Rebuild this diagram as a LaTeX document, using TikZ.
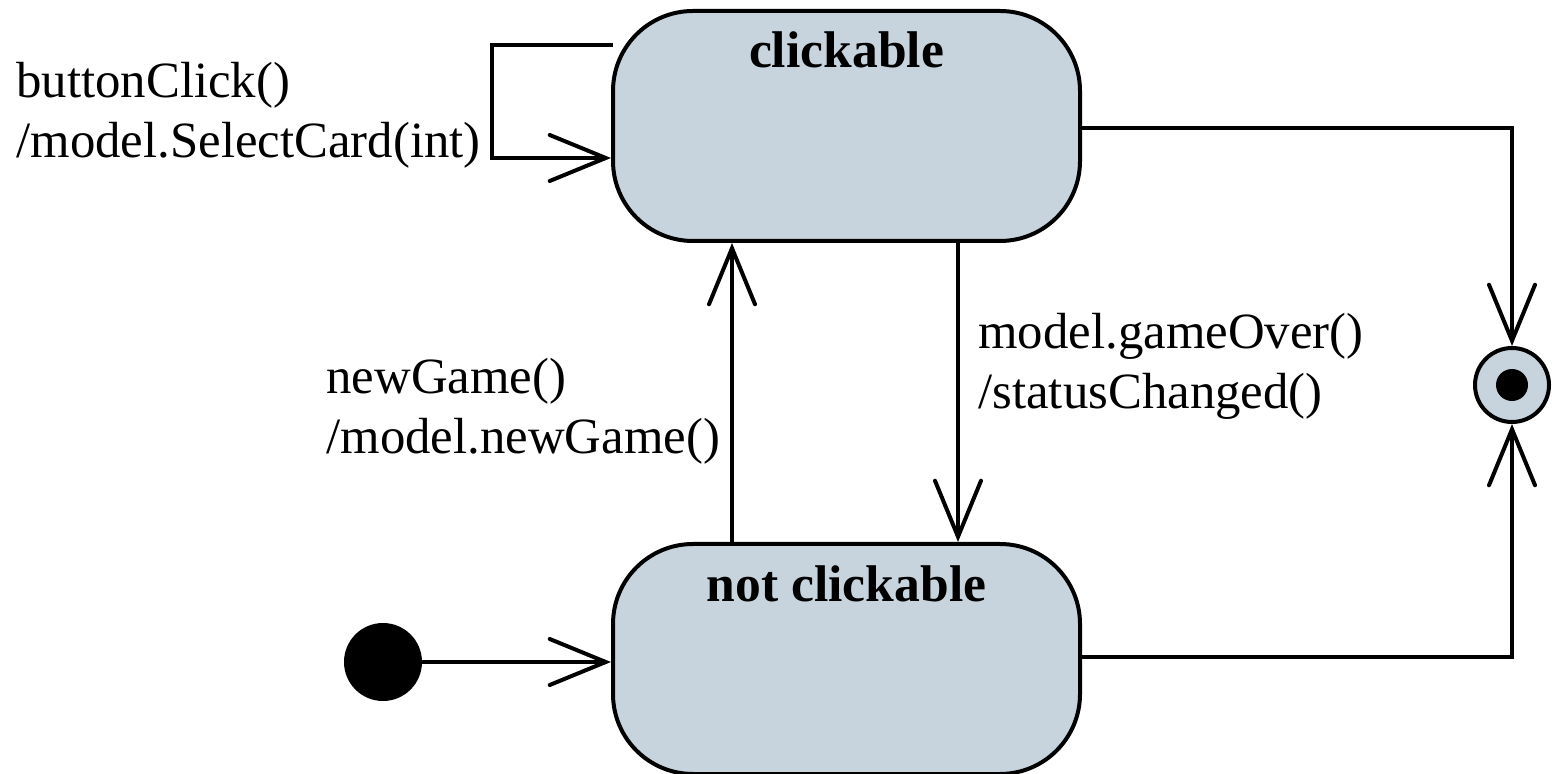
\documentclass[tikz,border=0pt]{standalone}
\usepackage{fontspec}
\setmainfont{Liberation Serif}
\usetikzlibrary{arrows.meta}
\definecolor{statefill}{RGB}{199,212,221}
\begin{document}
\begin{tikzpicture}[x=0.5pt,y=-0.5pt,
  lbl/.style={font=\fontsize{25.4}{30}\selectfont, inner sep=0pt, anchor=base west, align=left},
  ttl/.style={font=\fontsize{25.8}{30}\selectfont\bfseries},
  statebox/.style={draw, line width=2pt, fill=statefill, rounded corners=40pt,
    minimum width=233.5pt, minimum height=115pt, inner sep=0pt},
  trans/.style={line width=2pt, -{Straight Barb[length=28pt,width=23pt,line cap=round]}},
  plain/.style={line width=2pt}]
\useasboundingbox (0,0) rectangle (1552,774);

\node[statebox, label={[ttl, anchor=base, yshift=-29.5pt]north:clickable}] (cl) at (846.5,126) {};
\node[statebox, label={[ttl, anchor=base, yshift=-30pt]north:not clickable}] (nc) at (846.5,659) {};

\node[circle, fill=black, minimum size=39pt, inner sep=0pt] (init) at (383,662) {};
\node[circle, draw, line width=2pt, fill=statefill, minimum size=37pt, inner sep=0pt] (fin) at (1512,385) {};
\fill (fin.center) circle[radius=8pt];

% self loop
\coordinate (loopA) at (613,45);
\draw[trans] (loopA) -- ++(-121,0) |- (cl.west |- 0,158);

% initial
\draw[trans] (init) -- (init -| nc.west);

% newGame
\draw[trans] (nc.north -| 732,0) -- (cl.south -| 732,0);
% gameOver
\draw[trans] (cl.south -| 958,0) -- (nc.north -| 958,0);

% to final
\draw[trans] (cl.east |- 0,128) -| (fin.north);
\draw[trans] (nc.east |- 0,657) -| (fin.south);

\node[lbl] (l1) at (16,98) {\begin{tabular}[t]{@{}l@{}}buttonClick()\\/model.SelectCard(int)\end{tabular}};
\node[lbl] (l2) at (326,394) {\begin{tabular}[t]{@{}l@{}}newGame()\\/model.newGame()\end{tabular}};
\node[lbl] (l3) at (978,349) {\begin{tabular}[t]{@{}l@{}}model.gameOver()\\/statusChanged()\end{tabular}};
\end{tikzpicture}
\end{document}
